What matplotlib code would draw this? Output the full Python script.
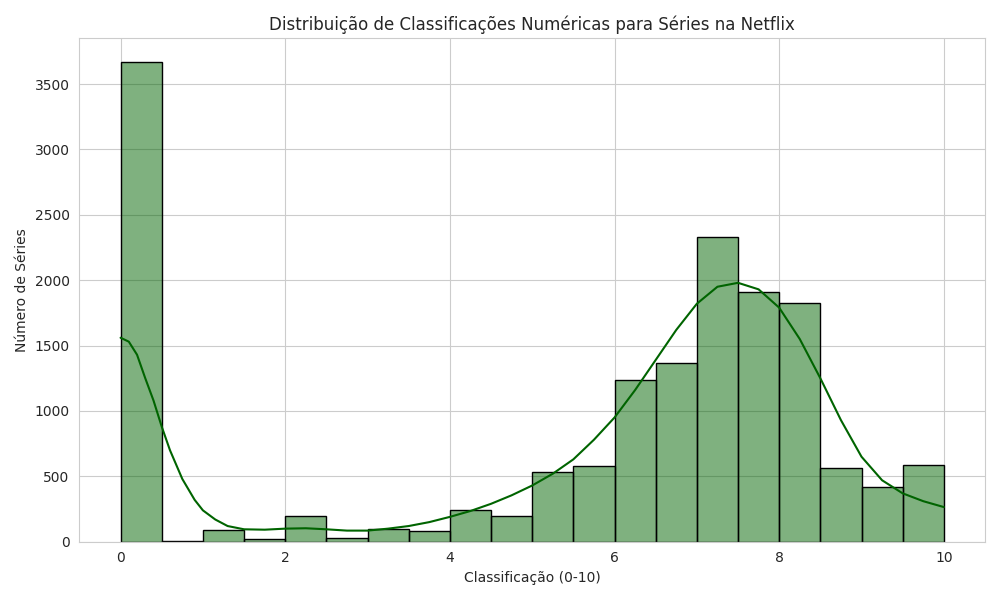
import numpy as np
import matplotlib
matplotlib.use("Agg")
import matplotlib.pyplot as plt
import seaborn as sns

# Bin edges and heights
bin_edges = np.arange(0, 10.01, 0.5)
counts = [3670, 5, 90, 20, 200, 30, 100, 80, 245, 200,
          535, 580, 1235, 1370, 2330, 1910, 1825, 560, 415, 585]

# KDE curve points
kde_x = [0, 0.1, 0.2, 0.3, 0.4, 0.5, 0.6, 0.75, 0.9, 1.0, 1.15, 1.3, 1.5, 1.75,
         2.0, 2.25, 2.5, 2.75, 3.0, 3.25, 3.5, 3.75, 4.0, 4.25, 4.5, 4.75, 5.0,
         5.25, 5.5, 5.75, 6.0, 6.25, 6.5, 6.75, 7.0, 7.25, 7.5, 7.75, 8.0, 8.25,
         8.5, 8.75, 9.0, 9.25, 9.5, 9.75, 10.0]
kde_y = [1560, 1530, 1430, 1250, 1080, 880, 700, 480, 320, 240, 170, 120, 95, 92,
         100, 103, 95, 85, 85, 100, 120, 150, 190, 235, 290, 355, 430, 520, 630,
         780, 950, 1160, 1390, 1620, 1820, 1950, 1980, 1930, 1790, 1550, 1250, 930,
         650, 470, 370, 310, 265]

sns.set_style("whitegrid")
fig, ax = plt.subplots(figsize=(10, 6), dpi=100)
centers = bin_edges[:-1] + 0.25
ax.hist(centers, bins=bin_edges, weights=counts, color=(0, 0.392, 0, 0.5),
        edgecolor="black", linewidth=1)
ax.plot(kde_x, kde_y, color="darkgreen", linewidth=1.5)

ax.set_title("Distribuição de Classificações Numéricas para Séries na Netflix")
ax.set_xlabel("Classificação (0-10)")
ax.set_ylabel("Número de Séries")
plt.tight_layout()
plt.savefig("out.png")
